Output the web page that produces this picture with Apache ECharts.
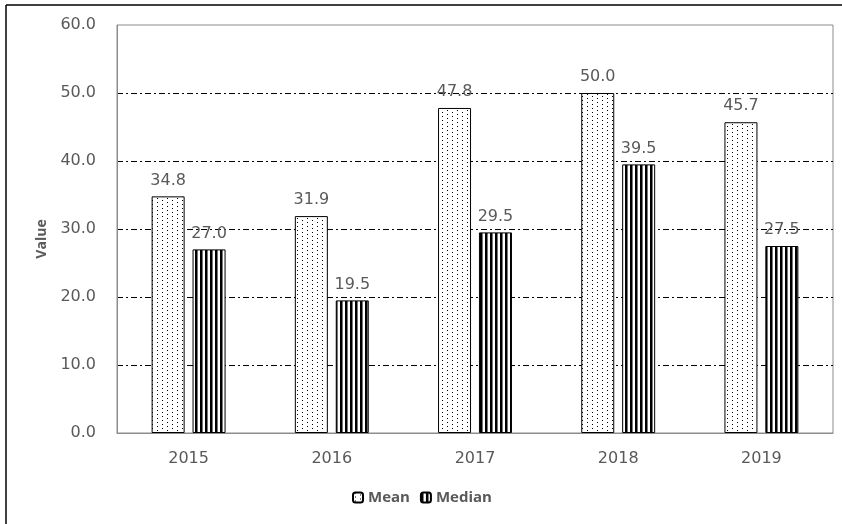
<!DOCTYPE html>
<html>
<head>
<meta charset="utf-8">
<script src="https://cdn.jsdelivr.net/npm/echarts@6/dist/echarts.min.js"></script>
<style>
  html, body { margin: 0; padding: 0; background: #fff; }
  #chart { width: 842px; height: 524px; }
</style>
</head>
<body>
<div id="chart"></div>
<script>
// Yearly mean and median values
const years = ['2015', '2016', '2017', '2018', '2019'];
const meanValues = [34.8, 31.9, 47.8, 50.0, 45.7];
const medianValues = [27.0, 19.5, 29.5, 39.5, 27.5];
const yTicks = { min: 0, max: 60, interval: 10 };

// Fill patterns: sparse dots for the mean, wide vertical stripes for the median
function dotPattern() {
  const c = document.createElement('canvas');
  c.width = 10; c.height = 4;
  const g = c.getContext('2d');
  g.fillStyle = '#fff';
  g.fillRect(0, 0, 10, 4);
  g.fillStyle = '#000';
  g.fillRect(2, 0, 1, 1);
  g.fillRect(7, 2, 1, 1);
  return c;
}
function stripePattern() {
  const c = document.createElement('canvas');
  c.width = 5; c.height = 4;
  const g = c.getContext('2d');
  g.fillStyle = '#fff';
  g.fillRect(0, 0, 5, 4);
  g.fillStyle = '#000';
  g.fillRect(0, 0, 2, 4);
  g.fillStyle = '#777';
  g.fillRect(2, 0, 1, 4);
  return c;
}

const labelStyle = {
  show: true,
  position: 'top',
  distance: 8,
  color: '#595959',
  fontFamily: 'DejaVu Sans',
  fontSize: 16,
  formatter: p => p.value.toFixed(1)
};

const chart = echarts.init(document.getElementById('chart'), null, { renderer: 'canvas' });
chart.setOption({
  backgroundColor: '#fff',
  animation: false,
  grid: {
    left: 117, right: 9, top: 25, bottom: 91,
    show: true, borderColor: '#8c8c8c', borderWidth: 1
  },
  legend: {
    left: 347, top: 485,
    itemWidth: 10, itemHeight: 10, itemGap: 10,
    textStyle: { color: '#595959', fontFamily: 'Open Sans', fontWeight: 'bold', fontSize: 15 },
    data: ['Mean', 'Median']
  },
  xAxis: {
    type: 'category',
    data: years,
    axisLine: { show: true, lineStyle: { color: '#8c8c8c' } },
    axisTick: { show: false },
    axisLabel: { color: '#595959', fontFamily: 'DejaVu Sans', fontSize: 16, margin: 18 }
  },
  yAxis: {
    type: 'value',
    min: yTicks.min, max: yTicks.max, interval: yTicks.interval,
    name: 'Value',
    nameLocation: 'middle',
    nameGap: 66,
    nameTextStyle: { color: '#595959', fontFamily: 'Open Sans', fontWeight: 'bold', fontSize: 14,
                     padding: [0, 20, 0, 0] },
    axisLine: { show: true, lineStyle: { color: '#8c8c8c' } },
    axisTick: { show: false },
    axisLabel: { color: '#595959', fontFamily: 'DejaVu Sans', fontSize: 16, margin: 21,
                 formatter: v => v.toFixed(1) },
    splitLine: {
      show: true, showMinLine: false, showMaxLine: false,
      lineStyle: { color: '#000', width: 1, type: [6, 3, 2, 3] }
    }
  },
  series: [
    {
      name: 'Mean', type: 'bar', data: meanValues,
      barWidth: 33, barGap: '24%',
      itemStyle: { color: { image: dotPattern(), repeat: 'repeat' }, borderColor: '#000', borderWidth: 1 },
      label: labelStyle
    },
    {
      name: 'Median', type: 'bar', data: medianValues,
      barWidth: 33,
      itemStyle: { color: { image: stripePattern(), repeat: 'repeat' }, borderColor: '#000', borderWidth: 1 },
      label: labelStyle
    }
  ],
  graphic: [
    { type: 'line', shape: { x1: 6, y1: 5, x2: 842, y2: 5 }, style: { stroke: '#000', lineWidth: 1.5 } },
    { type: 'line', shape: { x1: 6, y1: 5, x2: 6, y2: 524 }, style: { stroke: '#000', lineWidth: 1.5 } }
  ]
});
</script>
</body>
</html>
